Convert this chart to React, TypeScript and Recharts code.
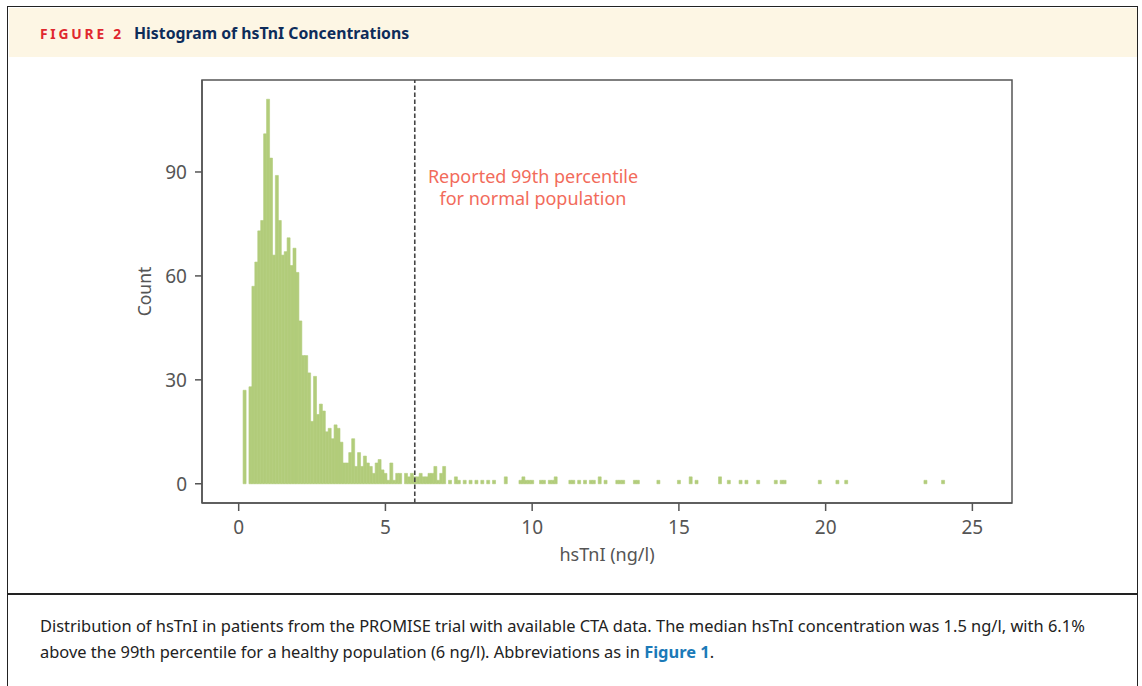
import React from 'react';
import { BarChart, Bar, XAxis, YAxis, ReferenceLine, ReferenceArea } from 'recharts';

// Histogram bins: first bin centre and bin width (ng/l)
const binStart = 0.2;
const binWidth = 0.1;
// Counts per bin, from 0.2 ng/l to 24.0 ng/l
const counts = [
  27, 0, 28, 57, 64, 73, 76, 101, 111, 94,
  66, 89, 76, 66, 67, 71, 63, 68, 61, 47,
  37, 37, 32, 18, 31, 20, 23, 21, 15, 16,
  13, 17, 16, 12, 6, 6, 9, 13, 5, 9,
  5, 8, 6, 5, 3, 6, 7, 4, 3, 1,
  6, 1, 3, 3, 0, 3, 2, 3, 2, 2,
  3, 2, 2, 3, 3, 5, 1, 3, 5, 0,
  1, 0, 2, 1, 0, 1, 0, 1, 0, 1,
  0, 1, 0, 1, 0, 1, 0, 0, 0, 2,
  0, 0, 0, 0, 1, 2, 1, 1, 1, 0,
  0, 1, 1, 0, 1, 1, 2, 0, 0, 0,
  0, 1, 1, 0, 1, 0, 1, 0, 1, 1,
  0, 2, 0, 1, 0, 0, 0, 1, 1, 1,
  0, 0, 0, 1, 1, 0, 0, 0, 0, 0,
  0, 1, 0, 0, 0, 0, 0, 0, 1, 0,
  0, 0, 2, 0, 1, 0, 0, 0, 0, 0,
  0, 0, 2, 0, 0, 1, 0, 0, 0, 1,
  0, 1, 0, 0, 0, 1, 0, 0, 0, 0,
  0, 1, 0, 1, 1, 0, 0, 0, 0, 0,
  0, 0, 0, 0, 0, 0, 1, 0, 0, 0,
  0, 0, 1, 0, 0, 1, 0, 0, 0, 0,
  0, 0, 0, 0, 0, 0, 0, 0, 0, 0,
  0, 0, 0, 0, 0, 0, 0, 0, 0, 0,
  0, 0, 1, 0, 0, 0, 0, 0, 1,
];

const xTicks = [0, 5, 10, 15, 20, 25];
const yTicks = [0, 30, 60, 90];
const percentile99 = 6;
const xDomain: [number, number] = [-1.25, 26.35];
const yDomain: [number, number] = [-5.55, 116.55];

const figureLabel = 'FIGURE 2';
const figureTitle = 'Histogram of hsTnI Concentrations';
const xLabel = 'hsTnI (ng/l)';
const yLabel = 'Count';
const annotationLines = ['Reported 99th percentile', 'for normal population'];
const captionLine1 =
  'Distribution of hsTnI in patients from the PROMISE trial with available CTA data. The median hsTnI concentration was 1.5 ng/l, with 6.1%';
const captionLine2a = 'above the 99th percentile for a healthy population (6 ng/l). Abbreviations as in ';
const captionLink = 'Figure 1';

const data = counts.map((c, i) => ({
  x: Math.round((binStart + i * binWidth) * 100) / 100,
  count: c === 0 ? null : c,
}));

const FONT = "'Noto Sans', 'Open Sans', sans-serif";
const AXIS = '#555555';
const BAR = '#b2cc7b';

export default function App() {
  return (
    <div
      style={{
        position: 'absolute',
        left: 0,
        top: 0,
        width: 1142,
        height: 686,
        overflow: 'hidden',
        fontFamily: FONT,
        background: '#ffffff',
      }}
    >
      {/* outer frame */}
      <div
        style={{
          position: 'absolute',
          left: 7,
          top: 6,
          width: 1131,
          height: 720,
          border: '1.5px solid #222',
          boxSizing: 'border-box',
        }}
      />
      {/* header band */}
      <div
        style={{
          position: 'absolute',
          left: 8.5,
          top: 7.5,
          width: 1128,
          height: 49.5,
          background: '#fdf6e4',
        }}
      />
      <div
        style={{
          position: 'absolute',
          left: 40,
          top: 22,
          height: 22,
          lineHeight: '22px',
          whiteSpace: 'nowrap',
        }}
      >
        <span
          style={{
            color: '#e0282f',
            fontWeight: 700,
            fontSize: 13.8,
            letterSpacing: 2.8,
          }}
        >
          {figureLabel}
        </span>
        <span
          style={{
            color: '#0d2c5a',
            fontWeight: 700,
            fontSize: 15.8,
            marginLeft: 10,
          }}
        >
          {figureTitle}
        </span>
      </div>

      {/* chart */}
      <div style={{ position: 'absolute', left: 100, top: 60 }}>
        <BarChart
          width={950}
          height={520}
          data={data}
          margin={{ top: 20, right: 38, bottom: 17, left: 42 }}
          barCategoryGap={0}
          barGap={0}
        >
          <XAxis
            dataKey="x"
            type="number"
            domain={xDomain}
            ticks={xTicks}
            height={60}
            stroke={AXIS}
            strokeWidth={1.5}
            tickSize={8}
            tickMargin={10}
            tick={{ fill: AXIS, fontSize: 19, fontFamily: FONT }}
            label={{
              value: xLabel,
              position: 'insideBottom',
              offset: 2,
              fill: AXIS,
              fontSize: 18,
              fontFamily: FONT,
            }}
          />
          <YAxis
            type="number"
            domain={yDomain}
            ticks={yTicks}
            width={60}
            stroke={AXIS}
            strokeWidth={1.5}
            tickSize={7}
            tickMargin={8}
            tick={{ fill: AXIS, fontSize: 19, fontFamily: FONT }}
            label={{
              value: yLabel,
              angle: -90,
              position: 'insideLeft',
              offset: 3,
              fill: AXIS,
              fontSize: 17.5,
              fontFamily: FONT,
              style: { textAnchor: 'middle' },
            }}
          />
          <Bar
            dataKey="count"
            fill={BAR}
            stroke={BAR}
            strokeWidth={0.6}
            isAnimationActive={false}
          />
          <ReferenceLine
            x={percentile99}
            stroke="#444444"
            strokeWidth={1.6}
            strokeDasharray="4.5 2.5"
          />
          <ReferenceArea
            x1={xDomain[0]}
            x2={xDomain[1]}
            y1={yDomain[0]}
            y2={yDomain[1]}
            fill="none"
            fillOpacity={0}
            stroke={AXIS}
            strokeWidth={1.5}
          />
        </BarChart>
      </div>

      {/* annotation */}
      <div
        style={{
          position: 'absolute',
          left: 383,
          top: 165,
          width: 300,
          textAlign: 'center',
          color: '#f26b5b',
          fontSize: 18,
          lineHeight: '22px',
        }}
      >
        {annotationLines.map((l) => (
          <div key={l}>{l}</div>
        ))}
      </div>

      {/* divider */}
      <div
        style={{
          position: 'absolute',
          left: 7,
          top: 593,
          width: 1131,
          height: 1.5,
          background: '#222',
        }}
      />

      {/* caption */}
      <div
        style={{
          position: 'absolute',
          left: 40,
          top: 613,
          fontSize: 16.45,
          lineHeight: '26px',
          color: '#222',
          whiteSpace: 'nowrap',
        }}
      >
        <div>{captionLine1}</div>
        <div>
          {captionLine2a}
          <span style={{ color: '#1b7ab8', fontWeight: 700 }}>{captionLink}</span>.
        </div>
      </div>
    </div>
  );
}
